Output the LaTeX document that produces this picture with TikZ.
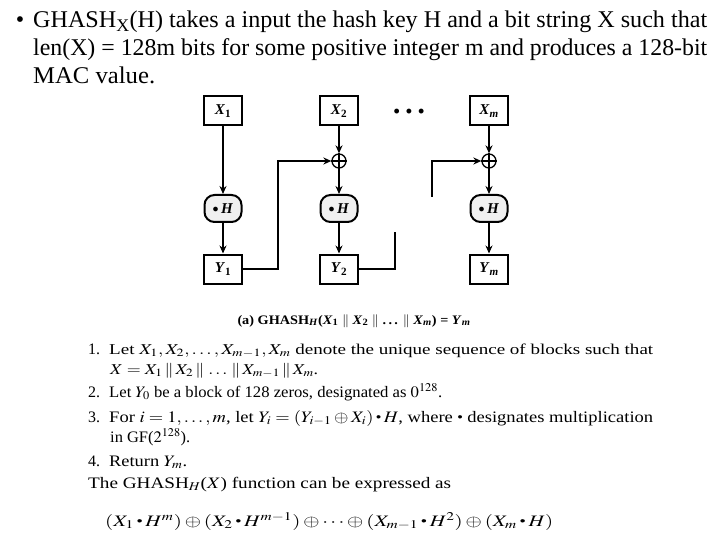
\documentclass[tikz,border=0pt]{standalone}
\usepackage{mathptmx}
\usepackage{fontspec}
\setmainfont{Liberation Serif}
\newfontfamily\hdrfont{Liberation Serif}
\usepackage{graphicx}
\usetikzlibrary{arrows.meta}
\newcommand\mdot{\mathbin{\vcenter{\hbox{\scalebox{0.55}{$\bullet$}}}}}
\newcommand\bbx[2]{\textbf{\textit{#1}}\textsubscript{\textbf{#2}}}
\newcommand\fitw[2]{\resizebox{#1}{\height}{#2}}
\newcommand\mulH{\textbf{$\vcenter{\hbox{\scalebox{0.8}{$\bullet$}}}$\,\textit{H}}}
\begin{document}
\begin{tikzpicture}[x=1pt,y=-1pt,
  blk/.style={draw,line width=2pt,minimum width=38pt,minimum height=29pt,inner sep=0pt,font=\hdrfont\fontsize{15}{17}\selectfont},
  mul/.style={draw,line width=2pt,rounded corners=10pt,fill=gray!12,minimum width=37pt,minimum height=27pt,inner sep=0pt,font=\hdrfont\fontsize{15}{17}\selectfont},
  xorc/.style={draw,circle,line width=1.3pt,minimum size=14pt,inner sep=0pt},
  arr/.style={line width=1.4pt,-{Stealth[length=8pt,width=7pt]}},
  ln/.style={line width=1.4pt},
  hdr/.style={anchor=base west,inner sep=0pt,font=\hdrfont\fontsize{24}{28}\selectfont},
  lst/.style={anchor=base west,inner sep=0pt,font=\hdrfont\fontsize{16}{18}\selectfont},
  lsts/.style={anchor=base west,inner sep=0pt,font=\hdrfont\fontsize{15}{17}\selectfont}]
\useasboundingbox (0,0) rectangle (720,540);
% heading text
\node[anchor=base,inner sep=0pt,font=\hdrfont\fontsize{24}{28}\selectfont] (bul) at (20,28) {•};
\node[hdr] (t1) at (33,28) {\fitw{674pt}{GHASH\textsubscript{X}(H) takes a input the hash key H and a bit string X such that}};
\node[hdr] (t2) at (33,56) {\fitw{674pt}{len(X) = 128m bits for some positive integer m and produces a 128-bit}};
\node[hdr] (t3) at (33,84) {\fitw{122pt}{MAC value.}};
% diagram
\node[blk] (X1) at (223,111) {\bbx{X}{1}};
\node[blk] (X2) at (339,111) {\bbx{X}{2}};
\node[blk] (Xm) at (489,111) {\textbf{\textit{X}}\textsubscript{\textbf{\textit{m}}}};
\node[font=\hdrfont\fontsize{18}{18}\selectfont\bfseries] (dots) at (409,113) {•\hspace{6pt}•\hspace{6pt}•};
\node[xorc] (xo2) at (339,161) {};
\node[xorc] (xom) at (489,161) {};
\draw[line width=1.3pt] (xo2.north) -- (xo2.south) (xo2.west) -- (xo2.east);
\draw[line width=1.3pt] (xom.north) -- (xom.south) (xom.west) -- (xom.east);
\node[mul] (M1) at (223,208.5) {\mulH};
\node[mul] (M2) at (339,208.5) {\mulH};
\node[mul] (Mm) at (489,208.5) {\mulH};
\node[blk] (Y1) at (223,269) {\bbx{Y}{1}};
\node[blk] (Y2) at (339,269) {\bbx{Y}{2}};
\node[blk] (Ym) at (489,269) {\textbf{\textit{Y}}\textsubscript{\textbf{\textit{m}}}};
\coordinate (c1) at (395,232);
\coordinate (c2) at (432,197);
\draw[arr] (X1) -- (M1);
\draw[arr] (M1) -- (Y1);
\draw[arr] (X2) -- (xo2);
\draw[arr] (xo2) -- (M2);
\draw[arr] (M2) -- (Y2);
\draw[arr] (Xm) -- (xom);
\draw[arr] (xom) -- (Mm);
\draw[arr] (Mm) -- (Ym);
\draw[arr] (Y1.east) -- ++(35,0) |- (xo2.west);
\draw[ln] (Y2.east) -| (c1);
\draw[arr] (c2) |- (xom.west);
% caption
\node[anchor=base,inner sep=0pt,font=\hdrfont\fontsize{13}{15}\selectfont] (cap) at (354,324) {\fitw{233pt}{\textbf{(a) GHASH\textsubscript{\textit{H}}(\textit{X}\textsubscript{1} $\|$ \textit{X}\textsubscript{2} $\|$ .\,.\,. $\|$ \textit{X}\textsubscript{\textit{m}}) = \textit{Y}\textsubscript{\textit{m}}}}};
% list
\node[lst] (n1) at (88,354) {1.};
\node[lsts] (l1) at (109,354) {\fitw{544pt}{Let $X_1, X_2, \ldots, X_{m-1}, X_m$ denote the unique sequence of blocks such that}};
\node[lsts] (l1b) at (110,374) {\fitw{208pt}{$X = X_1 \,\|\, X_2 \,\|\, \ldots \,\|\, X_{m-1} \,\|\, X_m$.}};
\node[lst] (n2) at (88,397) {2.};
\node[lst] (l2) at (109,397) {\fitw{333pt}{Let $Y_0$ be a block of 128 zeros, designated as $0^{128}$.}};
\node[lst] (n3) at (88,422) {3.};
\node[lst] (l3) at (109,422) {\fitw{544pt}{For $i = 1, \ldots, m$, let $Y_i = (Y_{i-1} \oplus X_i) \mdot H$, where $\mdot$ designates multiplication}};
\node[lst] (l3b) at (110,442) {\fitw{80pt}{in GF($2^{128}$).}};
\node[lst] (n4) at (88,466) {4.};
\node[lst] (l4) at (109,466) {\fitw{78pt}{Return $Y_m$.}};
\node[lst] (l5) at (88,488) {\fitw{363pt}{The GHASH$_H$($X$) function can be expressed as}};
\node[lst] (l6) at (105,526) {\fitw{448pt}{$(X_1 \mdot H^m) \oplus (X_2 \mdot H^{m-1}) \oplus \cdots \oplus (X_{m-1} \mdot H^2) \oplus (X_m \mdot H)$}};
\end{tikzpicture}
\end{document}
